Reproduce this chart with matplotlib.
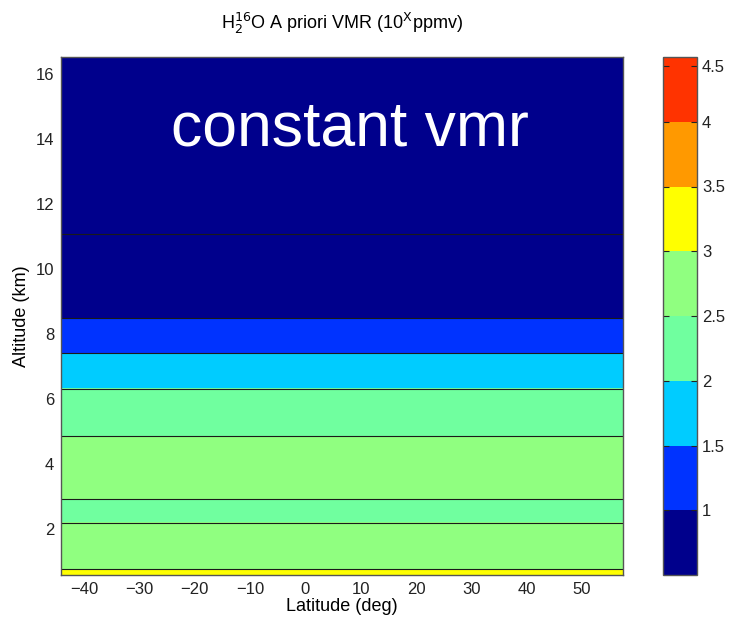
import numpy as np
import matplotlib
matplotlib.use("Agg")
import matplotlib.pyplot as plt
from matplotlib.colors import ListedColormap, BoundaryNorm

plt.rcParams['font.family'] = ['Liberation Sans', 'DejaVu Sans']

# Layer boundaries (km) and log10 VMR values in each layer
layer_edges = [0.58, 0.77, 2.18, 2.91, 4.85, 6.31, 7.41, 8.48, 11.08, 16.52]
layer_values = [3.2, 2.8, 2.3, 2.7, 2.2, 1.8, 1.2, 0.8, 0.56]
lat_range = [-44.2, 57.4]

levels = [0.53, 1.0, 1.5, 2.0, 2.5, 3.0, 3.5, 4.0, 4.58]
line_levels = [0.6, 1.0, 1.5, 2.0, 2.5, 3.0, 3.5, 4.0]
band_colors = ['#00008c', '#0033ff', '#00ccff', '#70ff9f',
               '#90ff80', '#ffff00', '#ff9900', '#ff3300']
cbar_ticks = [1, 1.5, 2, 2.5, 3, 3.5, 4, 4.5]
xticks = [-40, -30, -20, -10, 0, 10, 20, 30, 40, 50]
yticks = [2, 4, 6, 8, 10, 12, 14, 16]

# Build a fine altitude grid as a step profile from the layers
alt = np.linspace(layer_edges[0], layer_edges[-1], 3000)
idx = np.clip(np.searchsorted(layer_edges, alt, side='right') - 1, 0, len(layer_values) - 1)
prof = np.array(layer_values)[idx]
lat = np.linspace(lat_range[0], lat_range[1], 50)
Z = np.tile(prof[:, None], (1, lat.size))

fig = plt.figure(figsize=(7.47, 6.25), dpi=100)
ax = fig.add_axes([61/747, 1-575/625, (623-61)/747, (575-57)/625])
cax = fig.add_axes([663/747, 1-575/625, (697-663)/747, (575-57)/625])

cmap = ListedColormap(band_colors)
norm = BoundaryNorm(levels, cmap.N)
cf = ax.contourf(lat, alt, Z, levels=levels, cmap=cmap, norm=norm)
ax.contour(lat, alt, Z, levels=line_levels, colors='#1a1a1a', linewidths=0.8)

ax.set_xlim(lat_range)
ax.set_ylim(layer_edges[0], layer_edges[-1])
ax.set_xticks(xticks)
ax.set_yticks(yticks)
ax.tick_params(direction='in', length=0, labelsize=12, colors='#222222', pad=5)
for s in ax.spines.values():
    s.set_color('#555555')
    s.set_linewidth(1.0)
ax.set_xlabel('Latitude (deg)', fontsize=13, labelpad=1)
ax.set_ylabel('Altitude (km)', fontsize=13, labelpad=4)
ax.set_title(r'H$_2^{16}$O A priori VMR (10$^{\mathrm{X}}$ppmv)', fontsize=13, pad=20)

ax.text(8, 14.3, 'constant vmr', color='white', fontsize=45, ha='center', va='center')

cb = fig.colorbar(cf, cax=cax, ticks=cbar_ticks)
cb.ax.set_yticklabels([('%g' % t) for t in cbar_ticks])
cb.ax.minorticks_off()
cb.ax.tick_params(labelsize=12, direction='in', length=4, left=True, right=True, colors='#222222')
cb.outline.set_edgecolor('#555555')
cb.outline.set_linewidth(1.0)

fig.savefig('out.png', dpi=100)
